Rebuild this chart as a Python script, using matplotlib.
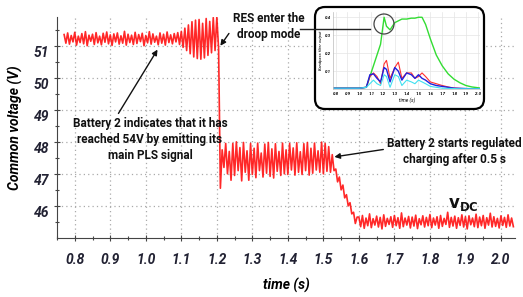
import numpy as np
import matplotlib.pyplot as plt
from matplotlib.patches import FancyBboxPatch, Circle
from matplotlib.transforms import ScaledTranslation

# common DC voltage, sampled every 5 ms starting at 0.77 s
t_start = 0.77
t_step = 0.005
v_before = [51.35, 51.08, 51.40, 51.05, 51.32, 51.12, 51.42, 51.02, 51.30, 51.10,
            51.38, 51.06, 51.44, 51.00, 51.33, 51.14, 51.36, 51.04, 51.41, 51.09,
            51.30, 51.03, 51.39, 51.11, 51.43, 51.06, 51.34, 51.01, 51.37, 51.12,
            51.40, 51.05, 51.31, 51.08, 51.45, 51.02, 51.36, 51.10, 51.33, 51.04,
            51.42, 51.07, 51.35, 51.13, 51.39, 51.00, 51.32, 51.09, 51.44, 51.05,
            51.37, 51.11, 51.30, 51.03, 51.40, 51.08, 51.36, 51.02, 51.43, 51.10,
            51.34, 51.06, 51.38, 51.12, 51.41, 51.04]
v_pls = [51.45, 50.95, 51.55, 50.85, 51.65, 50.75, 51.75, 50.65, 51.80, 50.60,
         51.82, 50.58, 51.70, 50.62, 51.85, 50.70, 51.76, 50.78, 51.88, 50.85,
         51.90, 50.90]
v_drop = [46.55]
v_droop = [47.75, 47.20, 47.95, 47.00, 47.70, 46.80, 47.95, 46.95, 48.00, 47.10,
           47.82, 46.78, 47.98, 47.05, 47.72, 46.80, 47.95, 46.98, 47.80, 46.88,
           47.96, 47.10, 47.65, 46.90, 47.93, 47.02, 47.98, 46.92, 47.78, 46.87,
           47.94, 47.08, 47.70, 46.95, 47.96, 47.00, 47.75, 46.98, 47.95, 47.12,
           47.81, 46.96, 47.97, 47.05, 47.69, 46.98, 47.94, 47.10, 47.98, 46.96,
           47.80, 47.02, 47.96, 47.12, 47.72, 47.05, 47.99, 47.00, 47.95, 47.08,
           47.85, 47.05, 47.60, 47.10]
v_ramp = [47.15, 46.75, 46.90, 46.50, 46.65, 46.25, 46.35, 46.00, 46.10, 45.75,
          45.80, 45.45, 45.65]
v_charge = [45.65, 45.35, 45.70, 45.30, 45.62, 45.38, 45.75, 45.32, 45.60, 45.40,
            45.68, 45.34, 45.64, 45.28, 45.72, 45.36, 45.61, 45.42, 45.66, 45.33,
            45.70, 45.38, 45.63, 45.30, 45.78, 45.35, 45.62, 45.40, 45.67, 45.31,
            45.65, 45.37, 45.71, 45.29, 45.60, 45.41, 45.69, 45.34, 45.64, 45.38,
            45.73, 45.32, 45.62, 45.40, 45.66, 45.30, 45.70, 45.36, 45.61, 45.42,
            45.80, 45.33, 45.64, 45.37, 45.68, 45.30, 45.63, 45.39, 45.72, 45.34,
            45.66, 45.28, 45.69, 45.41, 45.62, 45.35, 45.74, 45.32, 45.65, 45.38,
            45.70, 45.30, 45.63, 45.40, 45.77, 45.34, 45.66, 45.36, 45.61, 45.31,
            45.69, 45.39, 45.64, 45.33, 45.72, 45.37, 45.62, 45.35]

# inset: bandpass filter outputs
t_inset = [0.78, 1.0, 1.06, 1.09, 1.12, 1.15, 1.18, 1.21, 1.23, 1.26, 1.30, 1.33, 1.36, 1.40,
           1.44, 1.47, 1.50, 1.53, 1.56, 1.60, 1.65, 1.70, 1.75, 1.80, 1.85, 1.90, 1.95, 2.02]
bp_green = [0.005, 0.005, 0.01, 0.07, 0.13, 0.19, 0.25, 0.40, 0.35, 0.33, 0.37, 0.38, 0.39, 0.39,
            0.395, 0.395, 0.40, 0.40, 0.36, 0.28, 0.19, 0.13, 0.085, 0.055, 0.035, 0.02, 0.012, 0.006]
bp_red = [0.005, 0.005, 0.01, 0.07, 0.09, 0.07, 0.03, 0.14, 0.16, 0.06, 0.12, 0.15, 0.06, 0.09,
          0.09, 0.06, 0.07, 0.09, 0.07, 0.04, 0.03, 0.02, 0.012, 0.006, 0.004, 0.003, 0.002, 0.002]
bp_blue = [0.005, 0.005, 0.01, 0.08, 0.085, 0.06, 0.04, 0.12, 0.11, 0.04, 0.12, 0.10, 0.05, 0.09,
           0.08, 0.06, 0.08, 0.06, 0.05, 0.03, 0.02, 0.015, 0.01, 0.005, 0.004, 0.003, 0.002, 0.002]
bp_cyan = [0.005, 0.005, 0.01, 0.03, 0.05, 0.03, 0.02, 0.08, 0.07, 0.01, 0.08, 0.07, 0.02, 0.05,
           0.04, 0.03, 0.05, 0.04, 0.03, 0.015, 0.01, 0.005, 0.004, 0.003, 0.002, 0.002, 0.002, 0.002]

x_ticks = [0.8, 0.9, 1.0, 1.1, 1.2, 1.3, 1.4, 1.5, 1.6, 1.7, 1.8, 1.9, 2.0]
y_ticks = [46, 47, 48, 49, 50, 51]

plt.rcParams['font.family'] = ['Roboto', 'DejaVu Sans']

v = np.array(v_before + v_pls + v_drop + v_droop + v_ramp + v_charge)
t = t_start + t_step * np.arange(len(v))

fig = plt.figure(figsize=(5.23, 2.97), dpi=100)
ax = fig.add_axes([0.109, 0.199, 0.876, 0.744])

ax.plot(t, v, color='#ff1010', lw=1.2, alpha=0.9, zorder=2)

ax.set_xlim(0.767, 2.04)
ax.set_ylim(45.0, 51.9)
ax.set_xticks(x_ticks)
ax.set_xticks(np.arange(0.75, 2.05, 0.05), minor=True)
ax.set_yticks(y_ticks)
ax.set_yticks(np.arange(45.5, 52, 0.5), minor=True)
ax.set_xticklabels(['%.1f' % x for x in x_ticks])
ax.grid(True, which='major', ls=(0, (1, 2.5)), color='#aaaaaa', lw=0.9)
for s in ['top', 'right']:
    ax.spines[s].set_visible(False)
for s in ['left', 'bottom']:
    ax.spines[s].set_color('#444444')
ax.tick_params(which='both', direction='inout', color='#444444', length=4, width=0.8)
ax.tick_params(which='minor', length=3)
ax.tick_params(axis='x', pad=9)
for lab in ax.get_xticklabels() + ax.get_yticklabels():
    lab.set_fontweight('bold')
    lab.set_fontstyle('italic')
    lab.set_fontsize(10)
    lab.set_color('#222233')
for lab in ax.get_yticklabels():
    lab.set_transform(lab.get_transform() + ScaledTranslation(0, -0.06, fig.dpi_scale_trans))
ax.set_xlabel('time (s)', fontsize=10, fontweight='bold', fontstyle='italic', labelpad=8)
ax.set_ylabel('Common voltage (V)', fontsize=10, fontweight='bold', fontstyle='italic', labelpad=8)

# annotations
tkw = dict(fontsize=8.5, fontweight='bold', color='#111111', ha='center', va='center',
           linespacing=1.3)
akw = dict(arrowstyle='-|>', color='#111111', lw=1.0, mutation_scale=8, shrinkA=1, shrinkB=0)
ax.annotate('Battery 2 indicates that it has\nreached 54V by emitting its\nmain PLS signal',
            xy=(1.033, 50.88), xytext=(1.012, 48.06),
            arrowprops=dict(akw, relpos=(0.28, 1.0)), **tkw)
ax.annotate('RES enter the\ndroop mode', xy=(1.21, 51.0), xytext=(1.345, 51.59),
            arrowprops=dict(akw, relpos=(0.0, 0.45)), **tkw)
ax.annotate('Battery 2 starts regulated\ncharging after 0.5 s', xy=(1.531, 47.53),
            xytext=(1.87, 47.69), arrowprops=dict(akw, relpos=(0.0, 0.6)), **tkw)
ax.text(1.895, 46.03, r'$\mathbf{v}_{\mathbf{DC}}$', fontsize=12, color='#111111',
        ha='center', va='center')

# inset box
box = FancyBboxPatch((3.15, 1.88), 1.69, 1.02, boxstyle='round,pad=0,rounding_size=0.1',
                     transform=fig.dpi_scale_trans, fc='white', ec='black', lw=1.6, zorder=5)
fig.add_artist(box)

ins = fig.add_axes([0.637, 0.70, 0.281, 0.26], zorder=6)
ins.plot(t_inset, bp_green, color='#33dd33', lw=1.0)
ins.plot(t_inset, bp_red, color='#ff3030', lw=0.8)
ins.plot(t_inset, bp_blue, color='#2020dd', lw=1.0)
ins.plot(t_inset, bp_cyan, color='#40e0f0', lw=0.8)
ins.set_xlim(0.78, 2.02)
ins.set_ylim(0, 0.43)
ins.set_xticks(x_ticks)
ins.set_yticks([0.1, 0.2, 0.3, 0.4])
ins.set_xticklabels(['%.1f' % x for x in x_ticks])
ins.grid(True, color='#e4e4e4', lw=0.5)
ins.tick_params(labelsize=3.2, length=0, pad=2)
for lab in ins.get_xticklabels() + ins.get_yticklabels():
    lab.set_fontstyle('italic')
    lab.set_fontweight('bold')
for s in ['top', 'right']:
    ins.spines[s].set_visible(False)
for s in ['left', 'bottom']:
    ins.spines[s].set_color('#bbbbbb')
    ins.spines[s].set_linewidth(0.5)
ins.set_xlabel('time (s)', fontsize=3.5, fontstyle='italic', labelpad=1)
ins.set_ylabel('Bandpass filter output', fontsize=3, fontstyle='italic', labelpad=1)

# zoom circle and pointer into the inset
circ = Circle((3.84, 2.73), 0.1, fill=False, ec='#444444', lw=0.9,
              transform=fig.dpi_scale_trans, zorder=8)
fig.add_artist(circ)
fig.add_artist(plt.Line2D([3.0, 3.7], [2.68, 2.68], color='#222222', lw=1.0,
                          transform=fig.dpi_scale_trans, zorder=7))
arr = ax.annotate('', xy=(3.76, 2.68), xytext=(3.55, 2.68), xycoords=fig.dpi_scale_trans,
                  textcoords=fig.dpi_scale_trans,
                  arrowprops=dict(arrowstyle='-|>', color='#222222', lw=1.0, mutation_scale=8,
                                  shrinkA=0, shrinkB=0),
                  annotation_clip=False)
arr.set_zorder(8)

fig.savefig('out.png', dpi=100)
